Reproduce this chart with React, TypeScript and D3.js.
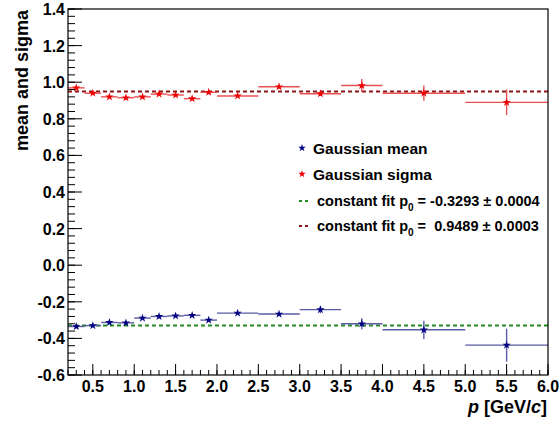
import { useRef, useEffect } from 'react'
import * as d3 from 'd3'

// bin edges (p in GeV/c)
const binLo = [0.2, 0.4, 0.6, 0.8, 1.0, 1.2, 1.4, 1.6, 1.8, 2.0, 2.5, 3.0, 3.5, 4.0, 5.0]
const binHi = [0.4, 0.6, 0.8, 1.0, 1.2, 1.4, 1.6, 1.8, 2.0, 2.5, 3.0, 3.5, 4.0, 5.0, 6.0]

const meanVals = [-0.335, -0.33, -0.313, -0.315, -0.289, -0.28, -0.277, -0.274, -0.30, -0.262, -0.267, -0.243, -0.32, -0.353, -0.437]
const meanErrs = [0.006, 0.006, 0.006, 0.006, 0.006, 0.006, 0.006, 0.006, 0.007, 0.006, 0.007, 0.02, 0.03, 0.05, 0.09]
const sigmaVals = [0.969, 0.94, 0.92, 0.915, 0.92, 0.935, 0.93, 0.91, 0.945, 0.925, 0.975, 0.937, 0.982, 0.94, 0.89]
const sigmaErrs = [0.006, 0.006, 0.006, 0.006, 0.006, 0.006, 0.006, 0.006, 0.007, 0.006, 0.007, 0.012, 0.035, 0.042, 0.07]

const fitMean = -0.3293
const fitSigma = 0.9489

const yTicks = [-0.6, -0.4, -0.2, 0.0, 0.2, 0.4, 0.6, 0.8, 1.0, 1.2, 1.4]
const xTicks = [0.5, 1.0, 1.5, 2.0, 2.5, 3.0, 3.5, 4.0, 4.5, 5.0, 5.5, 6.0]

const FONT = '"Liberation Sans", Arial, Helvetica, sans-serif'

const App = () => {
  const chartRef = useRef<SVGSVGElement>(null)

  useEffect(() => {
    drawChart()
  }, [])

  const drawChart = () => {
    const svg = d3.select(chartRef.current)
    svg.selectAll('*').remove()
    const left = 68, right = 548, top = 9, bottom = 375

    const x = d3.scaleLinear().domain([0.2, 6.0]).range([left, right])
    const y = d3.scaleLinear().domain([-0.6, 1.4]).range([bottom, top])

    svg.append('rect').attr('width', 560).attr('height', 423).attr('fill', 'white')

    // fit lines
    const fits = [
      { v: fitMean, c: '#1e8c1e' },
      { v: fitSigma, c: '#8c1414' },
    ]
    fits.forEach((f) => {
      svg.append('line')
        .attr('x1', x(0.2)).attr('x2', x(6.0))
        .attr('y1', y(f.v)).attr('y2', y(f.v))
        .attr('stroke', f.c).attr('stroke-width', 2)
        .attr('stroke-dasharray', '4,3')
    })

    const series = [
      { vals: meanVals, errs: meanErrs, c: '#000080', light: '#5a5aa8' },
      { vals: sigmaVals, errs: sigmaErrs, c: '#ee0000', light: '#ea5050' },
    ]
    const star = d3.symbol().type(d3.symbolStar).size(22)
    series.forEach((s) => {
      const g = svg.append('g')
      s.vals.forEach((v, i) => {
        const cx = x((binLo[i] + binHi[i]) / 2)
        g.append('line')
          .attr('x1', x(binLo[i])).attr('x2', x(binHi[i]))
          .attr('y1', y(v)).attr('y2', y(v))
          .attr('stroke', s.light).attr('stroke-width', 1.4)
        g.append('line')
          .attr('x1', cx).attr('x2', cx)
          .attr('y1', y(v - s.errs[i])).attr('y2', y(v + s.errs[i]))
          .attr('stroke', s.light).attr('stroke-width', 1.4)
        g.append('path')
          .attr('d', star)
          .attr('transform', `translate(${cx},${y(v)})`)
          .attr('fill', s.c)
      })
    })

    // frame
    svg.append('rect')
      .attr('x', left).attr('y', top)
      .attr('width', right - left).attr('height', bottom - top)
      .attr('fill', 'none').attr('stroke', 'black').attr('stroke-width', 1.2)

    // y ticks (inward)
    const yMinor = d3.range(-0.6, 1.4001, 0.04)
    yMinor.forEach((t) => {
      svg.append('line')
        .attr('x1', left).attr('x2', left + 7)
        .attr('y1', y(t)).attr('y2', y(t))
        .attr('stroke', 'black')
    })
    yTicks.forEach((t) => {
      svg.append('line')
        .attr('x1', left).attr('x2', left + 14)
        .attr('y1', y(t)).attr('y2', y(t))
        .attr('stroke', 'black')
      svg.append('text')
        .attr('x', left - 3).attr('y', y(t) + 6)
        .attr('text-anchor', 'end')
        .attr('font-family', FONT).attr('font-weight', 'bold').attr('font-size', 16)
        .text(t.toFixed(1))
    })

    // x ticks (inward)
    const xMinor = d3.range(0.2, 6.0001, 0.1)
    xMinor.forEach((t) => {
      svg.append('line')
        .attr('x1', x(t)).attr('x2', x(t))
        .attr('y1', bottom).attr('y2', bottom - 5)
        .attr('stroke', 'black')
    })
    xTicks.forEach((t) => {
      svg.append('line')
        .attr('x1', x(t)).attr('x2', x(t))
        .attr('y1', bottom).attr('y2', bottom - 11)
        .attr('stroke', 'black')
      svg.append('text')
        .attr('x', x(t)).attr('y', 392)
        .attr('text-anchor', 'middle')
        .attr('font-family', FONT).attr('font-weight', 'bold').attr('font-size', 16)
        .text(t.toFixed(1))
    })

    // axis titles
    svg.append('text')
      .attr('transform', `translate(28,10) rotate(-90)`)
      .attr('text-anchor', 'end')
      .attr('font-family', FONT).attr('font-weight', 'bold').attr('font-size', 18)
      .text('mean and sigma')

    const xt = svg.append('text')
      .attr('x', 547).attr('y', 413)
      .attr('text-anchor', 'end')
      .attr('font-family', FONT).attr('font-weight', 'bold').attr('font-size', 18)
    xt.append('tspan').attr('font-style', 'italic').text('p')
    xt.append('tspan').text(' [GeV/')
    xt.append('tspan').attr('font-style', 'italic').text('c')
    xt.append('tspan').text(']')

    // legend
    const legend = svg.append('g').attr('font-family', FONT).attr('font-weight', 'bold')
    const markerRows = [
      { label: 'Gaussian mean', c: '#000080', yy: 149 },
      { label: 'Gaussian sigma', c: '#ee0000', yy: 175 },
    ]
    markerRows.forEach((r) => {
      legend.append('path')
        .attr('d', d3.symbol().type(d3.symbolStar).size(18))
        .attr('transform', `translate(302,${r.yy - 1})`)
        .attr('fill', r.c)
      legend.append('text')
        .attr('x', 313).attr('y', r.yy + 5)
        .attr('font-size', 15.5)
        .text(r.label)
    })
    const fitRows = [
      { v: '-0.3293', e: '0.0004', c: '#1e8c1e', yy: 201 },
      { v: '\u00a00.9489', e: '0.0003', c: '#8c1414', yy: 226 },
    ]
    fitRows.forEach((r) => {
      legend.append('line')
        .attr('x1', 299).attr('x2', 310)
        .attr('y1', r.yy).attr('y2', r.yy)
        .attr('stroke', r.c).attr('stroke-width', 2)
        .attr('stroke-dasharray', '3,3')
      const t = legend.append('text')
        .attr('x', 317).attr('y', r.yy + 5)
        .attr('font-size', 14.5)
      t.append('tspan').text('constant fit p')
      t.append('tspan').attr('dy', 5).attr('font-size', 10).text('0')
      t.append('tspan').attr('dy', -5).text(` = ${r.v} \u00b1 ${r.e}`)
    })
  }

  return (
    <svg ref={chartRef} width={560} height={423}
      style={{ position: 'absolute', left: 0, top: 0 }}></svg>
  )
}

export default App
